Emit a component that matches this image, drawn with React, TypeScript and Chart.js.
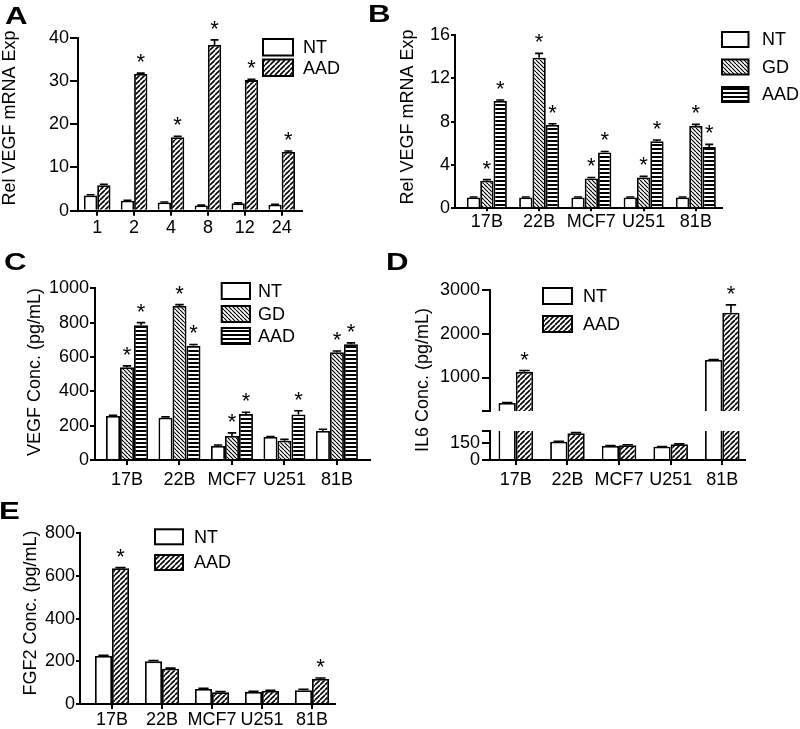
import React, { useEffect, useRef } from 'react';
import { Chart, registerables } from 'chart.js';

Chart.register(...registerables);

const FONT = '"Liberation Sans", Arial, Helvetica, sans-serif';

// ---------------- data ----------------
// Panel A: time course (h)
const hoursA = ['1', '2', '4', '8', '12', '24'];
const ntA = [3.5, 2.3, 1.9, 1.2, 1.7, 1.4];
const ntAErr = [0.2, 0.1, 0.1, 0.1, 0.1, 0.1];
const ntAStar = [false, false, false, false, false, false];
const aadA = [5.9, 31.6, 17.0, 38.3, 30.2, 13.6];
const aadAErr = [0.2, 0.2, 0.2, 1.2, 0.2, 0.2];
const aadAStar = [false, true, true, true, true, true];
const yTicksA = [0, 10, 20, 30, 40];

// cell lines for panels B-E
const cellLines = ['17B', '22B', 'MCF7', 'U251', '81B'];

// Panel B: Rel VEGF mRNA Exp
const ntB = [1, 1, 1, 1, 1];
const ntBErr = [0.05, 0.05, 0.05, 0.05, 0.05];
const ntBStar = [false, false, false, false, false];
const gdB = [2.55, 13.9, 2.75, 2.85, 7.6];
const gdBErr = [0.1, 0.4, 0.1, 0.1, 0.15];
const gdBStar = [true, true, true, true, true];
const aadB = [9.9, 7.7, 5.15, 6.2, 5.65];
const aadBErr = [0.1, 0.1, 0.1, 0.1, 0.25];
const aadBStar = [true, true, true, true, true];
const yTicksB = [0, 4, 8, 12, 16];

// Panel C: VEGF Conc. (pg/mL)
const ntC = [256, 246, 82, 134, 169];
const ntCErr = [5, 5, 5, 3, 10];
const ntCStar = [false, false, false, false, false];
const gdC = [540, 897, 140, 112, 627];
const gdCErr = [8, 8, 18, 8, 8];
const gdCStar = [true, true, true, false, true];
const aadC = [785, 665, 268, 265, 674];
const aadCErr = [15, 8, 10, 22, 8];
const aadCStar = [true, true, true, true, true];
const yTicksC = [0, 200, 400, 600, 800, 1000];

// Panel D: IL6 Conc. (pg/mL), broken axis
const ntD = [420, 158, 121, 114, 1400];
const ntDErr = [10, 3, 3, 3, 10];
const ntDStar = [false, false, false, false, false];
const aadD = [1130, 230, 128, 136, 2480];
const aadDErr = [30, 6, 3, 3, 180];
const aadDStar = [true, false, false, false, true];
const yTicksDUpper = [235, 1000, 2000, 3000];
const yLabelsDUpper = [1000, 2000, 3000];
const yTicksDLower = [0, 150, 250];
const yLabelsDLower = [0, 150];

// Panel E: FGF2 Conc. (pg/mL)
const ntE = [225, 200, 70, 57, 65];
const ntEErr = [3, 4, 3, 3, 4];
const ntEStar = [false, false, false, false, false];
const aadE = [636, 165, 55, 61, 117];
const aadEErr = [3, 3, 3, 3, 5];
const aadEStar = [true, false, false, false, true];
const yTicksE = [0, 200, 400, 600, 800];

// ---------------- types ----------------
type Fill = 'none' | 'fwd' | 'back' | 'horiz';
interface Series { label: string; values: number[]; errs: number[]; stars: boolean[]; fill: Fill }
interface Legend { x: number; w: number; h: number; rows: number[]; textX: number }
interface PanelSpec {
  key: string;
  box: [number, number, number, number];
  area: [number, number, number, number];
  cats: string[];
  xMin: number; xMax: number; catPct: number;
  yMin: number; yMax: number; yTicks: number[]; yLabels: number[];
  yTick: number; yPad: number;
  showX: boolean; xH: number; xTick: number; xPad: number;
  series: Series[];
  title?: { text: string; x: number; y: number };
  legend?: Legend;
}

const NT = 'NT', GD = 'GD', AAD = 'AAD';

const panels: PanelSpec[] = [
  {
    key: 'A', box: [0, 0, 400, 250], area: [78, 37.7, 302, 210.7],
    cats: hoursA, xMin: -0.52, xMax: 5.55, catPct: 0.72,
    yMin: 0, yMax: 40, yTicks: yTicksA, yLabels: yTicksA, yTick: 8, yPad: 1,
    showX: true, xH: 35, xTick: 5, xPad: 2,
    series: [
      { label: NT, values: ntA, errs: ntAErr, stars: ntAStar, fill: 'none' },
      { label: AAD, values: aadA, errs: aadAErr, stars: aadAStar, fill: 'fwd' },
    ],
    title: { text: 'Rel VEGF mRNA Exp', x: 15, y: 118 },
    legend: { x: 263, w: 30, h: 16.5, rows: [39, 59.5], textX: 303 },
  },
  {
    key: 'B', box: [400, 0, 400, 250], area: [455, 35, 722, 208.3],
    cats: cellLines, xMin: -0.61, xMax: 4.5, catPct: 0.765,
    yMin: 0, yMax: 16, yTicks: yTicksB, yLabels: yTicksB, yTick: 4, yPad: 1,
    showX: true, xH: 35, xTick: 3, xPad: 0,
    series: [
      { label: NT, values: ntB, errs: ntBErr, stars: ntBStar, fill: 'none' },
      { label: GD, values: gdB, errs: gdBErr, stars: gdBStar, fill: 'back' },
      { label: AAD, values: aadB, errs: aadBErr, stars: aadBStar, fill: 'horiz' },
    ],
    title: { text: 'Rel VEGF mRNA Exp', x: 413, y: 117 },
    legend: { x: 722, w: 26.5, h: 15, rows: [32, 59.5, 87], textX: 762 },
  },
  {
    key: 'C', box: [0, 250, 400, 250], area: [95, 288.3, 370, 460],
    cats: cellLines, xMin: -0.61, xMax: 4.63, catPct: 0.8,
    yMin: 0, yMax: 1000, yTicks: yTicksC, yLabels: yTicksC, yTick: 5, yPad: 1,
    showX: true, xH: 35, xTick: 5, xPad: 4,
    series: [
      { label: NT, values: ntC, errs: ntCErr, stars: ntCStar, fill: 'none' },
      { label: GD, values: gdC, errs: gdCErr, stars: gdCStar, fill: 'back' },
      { label: AAD, values: aadC, errs: aadCErr, stars: aadCStar, fill: 'horiz' },
    ],
    title: { text: 'VEGF Conc. (pg/mL)', x: 40, y: 372 },
    legend: { x: 221.7, w: 28.3, h: 16, rows: [283, 306, 328], textX: 258 },
  },
  {
    key: 'Dupper', box: [400, 250, 400, 185], area: [490, 290, 745, 411],
    cats: cellLines, xMin: -0.5, xMax: 4.44, catPct: 0.67,
    yMin: 235, yMax: 3000, yTicks: yTicksDUpper, yLabels: yLabelsDUpper, yTick: 8, yPad: 2,
    showX: false, xH: 0, xTick: 5, xPad: 4,
    series: [
      { label: NT, values: ntD, errs: ntDErr, stars: ntDStar, fill: 'none' },
      { label: AAD, values: aadD, errs: aadDErr, stars: aadDStar, fill: 'fwd' },
    ],
  },
  {
    key: 'Dlower', box: [400, 250, 400, 250], area: [490, 431, 745, 460],
    cats: cellLines, xMin: -0.5, xMax: 4.44, catPct: 0.67,
    yMin: 0, yMax: 250, yTicks: yTicksDLower, yLabels: yLabelsDLower, yTick: 8, yPad: 2,
    showX: true, xH: 35, xTick: 5, xPad: 4,
    series: [
      { label: NT, values: ntD, errs: ntDErr, stars: ntDStar, fill: 'none' },
      { label: AAD, values: aadD, errs: aadDErr, stars: aadDStar, fill: 'fwd' },
    ],
    title: { text: 'IL6 Conc. (pg/mL)', x: 428, y: 380 },
    legend: { x: 543, w: 29, h: 16, rows: [288, 316], textX: 583 },
  },
  {
    key: 'E', box: [0, 480, 400, 249], area: [80, 533.3, 335, 704],
    cats: cellLines, xMin: -0.64, xMax: 4.46, catPct: 0.68,
    yMin: 0, yMax: 800, yTicks: yTicksE, yLabels: yTicksE, yTick: 4, yPad: 1,
    showX: true, xH: 25, xTick: 5, xPad: 0,
    series: [
      { label: NT, values: ntE, errs: ntEErr, stars: ntEStar, fill: 'none' },
      { label: AAD, values: aadE, errs: aadEErr, stars: aadEStar, fill: 'fwd' },
    ],
    title: { text: 'FGF2 Conc. (pg/mL)', x: 36, y: 613 },
    legend: { x: 155, w: 28, h: 15, rows: [529.3, 555], textX: 194 },
  },
];

const letters = [
  { t: 'A', x: 5, y: 4 },
  { t: 'B', x: 368, y: 2 },
  { t: 'C', x: 4, y: 250 },
  { t: 'D', x: 386, y: 250 },
  { t: 'E', x: -1, y: 499 },
];

// ---------------- helpers ----------------
function makeFill(ctx: CanvasRenderingContext2D, kind: Fill): string | CanvasPattern {
  if (kind === 'none') return '#ffffff';
  const s = kind === 'horiz' ? 4 : kind === 'back' ? 4 : 5;
  const c = document.createElement('canvas');
  c.width = s; c.height = s;
  const g = c.getContext('2d')!;
  g.fillStyle = '#ffffff';
  g.fillRect(0, 0, s, s);
  if (kind === 'horiz') {
    g.fillStyle = '#000000';
    g.fillRect(0, 0, s, 2);
  } else {
    g.strokeStyle = '#000000';
    g.lineWidth = kind === 'back' ? 1.2 : 1.6;
    g.beginPath();
    for (const o of [-s, 0, s]) {
      if (kind === 'fwd') { g.moveTo(o, s); g.lineTo(o + s, 0); }
      else { g.moveTo(o, 0); g.lineTo(o + s, s); }
    }
    g.stroke();
  }
  return ctx.createPattern(c, 'repeat') as CanvasPattern;
}

function extrasPlugin(spec: PanelSpec) {
  return {
    id: 'extras' + spec.key,
    afterDatasetsDraw(chart: any) {
      const ctx: CanvasRenderingContext2D = chart.ctx;
      const ys = chart.scales.y;
      const bx = spec.box[0], by = spec.box[1];
      ctx.save();
      spec.series.forEach((s, di) => {
        const meta = chart.getDatasetMeta(di);
        meta.data.forEach((el: any, j: number) => {
          const v = s.values[j];
          if (v > spec.yMax || v < spec.yMin) return;
          const e = s.errs[j] || 0;
          const yV = ys.getPixelForValue(v);
          const yTop = ys.getPixelForValue(v + e);
          ctx.strokeStyle = '#000';
          ctx.lineWidth = 1.6;
          ctx.beginPath();
          ctx.moveTo(el.x, yV);
          ctx.lineTo(el.x, yTop);
          const cw = el.width * 0.3;
          ctx.moveTo(el.x - cw, yTop);
          ctx.lineTo(el.x + cw, yTop);
          ctx.stroke();
          if (s.stars[j]) {
            ctx.fillStyle = '#000';
            ctx.font = `22px ${FONT}`;
            ctx.textAlign = 'center';
            ctx.textBaseline = 'alphabetic';
            ctx.fillText('*', el.x, yTop - 4);
          }
        });
      });
      if (spec.legend) {
        const lg = spec.legend;
        spec.series.forEach((s, i) => {
          const x = lg.x - bx, y = lg.rows[i] - by;
          ctx.fillStyle = chart.data.datasets[i].backgroundColor;
          ctx.fillRect(x, y, lg.w, lg.h);
          ctx.strokeStyle = '#000';
          ctx.lineWidth = 2;
          ctx.strokeRect(x, y, lg.w, lg.h);
          ctx.fillStyle = '#000';
          ctx.font = `18px ${FONT}`;
          ctx.textAlign = 'left';
          ctx.textBaseline = 'middle';
          ctx.fillText(s.label, lg.textX - bx, y + lg.h / 2 + 1);
        });
      }
      if (spec.title) {
        ctx.save();
        ctx.translate(spec.title.x - bx, spec.title.y - by);
        ctx.rotate(-Math.PI / 2);
        ctx.fillStyle = '#000';
        ctx.font = `18px ${FONT}`;
        ctx.textAlign = 'center';
        ctx.textBaseline = 'alphabetic';
        ctx.fillText(spec.title.text, 0, 0);
        ctx.restore();
      }
      ctx.restore();
    },
  };
}

function Panel({ spec }: { spec: PanelSpec }) {
  const ref = useRef<HTMLCanvasElement>(null);
  useEffect(() => {
    const canvas = ref.current!;
    const ctx = canvas.getContext('2d')!;
    const [bx, by, bw, bh] = spec.box;
    const [L, T, R, B] = spec.area;
    const xH = spec.showX ? spec.xH : 0;
    const chart = new Chart(ctx, {
      type: 'bar',
      data: {
        datasets: spec.series.map((s) => ({
          label: s.label,
          // bars entirely below this axis segment are left out (broken axis)
          data: s.values.map((v, i) => ({ x: i, y: v < spec.yMin ? null : v })),
          backgroundColor: makeFill(ctx, s.fill) as any,
          borderColor: '#000',
          borderWidth: 1.8,
          borderSkipped: 'start',
          categoryPercentage: spec.catPct,
          barPercentage: 1,
          clip: 0,
        })) as any,
      },
      options: {
        responsive: false,
        animation: false,
        events: [],
        layout: { padding: { left: 0, top: T - by, right: bx + bw - R, bottom: by + bh - B - xH } },
        plugins: { legend: { display: false }, tooltip: { enabled: false }, title: { display: false } },
        scales: {
          x: {
            type: 'linear',
            display: spec.showX,
            min: spec.xMin,
            max: spec.xMax,
            offset: false,
            afterBuildTicks: (sc: any) => { sc.ticks = spec.cats.map((_, i) => ({ value: i })); },
            afterFit: (sc: any) => { sc.height = xH; },
            ticks: {
              callback: (v: any) => spec.cats[Number(v)] ?? '',
              font: { family: FONT, size: 18 },
              color: '#000',
              padding: spec.xPad,
              maxRotation: 0,
              autoSkip: false,
            },
            grid: { display: true, drawOnChartArea: false, drawTicks: true, tickLength: spec.xTick, color: '#000', lineWidth: 2, offset: false },
            border: { display: true, color: '#000', width: 2 },
          },
          y: {
            type: 'linear',
            min: spec.yMin,
            max: spec.yMax,
            beginAtZero: false,
            afterBuildTicks: (sc: any) => { sc.ticks = spec.yTicks.map((v) => ({ value: v })); },
            afterFit: (sc: any) => { sc.width = L - bx; },
            ticks: {
              callback: (v: any) => (spec.yLabels.includes(Number(v)) ? String(v) : ''),
              font: { family: FONT, size: 18 },
              color: '#000',
              padding: spec.yPad,
              autoSkip: false,
            },
            grid: { display: true, drawOnChartArea: false, drawTicks: true, tickLength: spec.yTick, color: '#000', lineWidth: 2 },
            border: { display: true, color: '#000', width: 2 },
          },
        },
      } as any,
      plugins: [extrasPlugin(spec)],
    });
    return () => chart.destroy();
  }, [spec]);
  const [bx, by, bw, bh] = spec.box;
  return (
    <canvas
      ref={ref}
      width={bw}
      height={bh}
      style={{ position: 'absolute', left: bx, top: by, width: bw, height: bh, display: 'block' }}
    />
  );
}

export default function App() {
  return (
    <div style={{ position: 'absolute', left: 0, top: 0, width: 800, height: 729, background: '#fff', overflow: 'hidden' }}>
      {panels.map((p) => (
        <Panel key={p.key} spec={p} />
      ))}
      {letters.map((l) => (
        <div
          key={l.t}
          style={{
            position: 'absolute',
            left: l.x,
            top: l.y,
            font: `bold 24px ${FONT}`,
            lineHeight: '24px',
            color: '#000',
            transform: 'scaleX(1.3)',
            transformOrigin: 'left top',
          }}
        >
          {l.t}
        </div>
      ))}
    </div>
  );
}
